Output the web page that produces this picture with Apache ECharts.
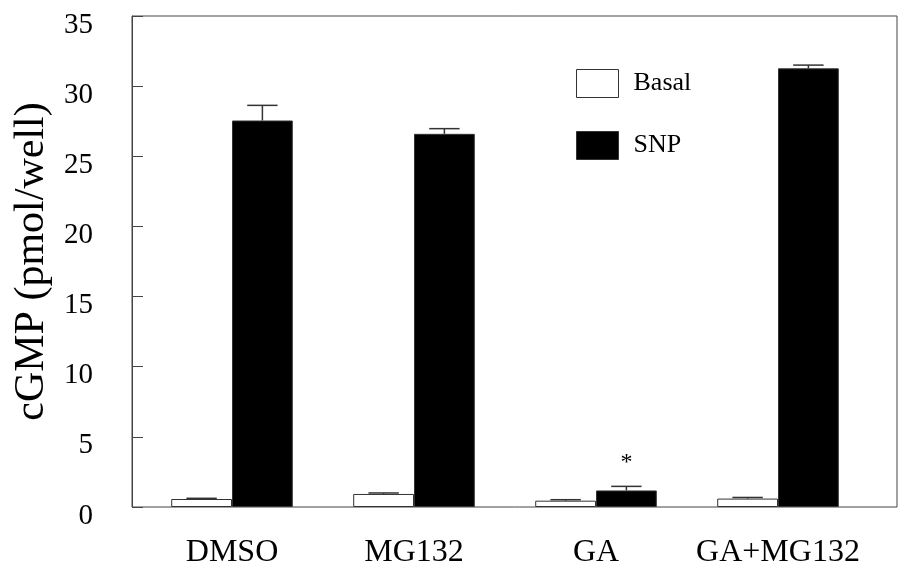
<!DOCTYPE html>
<html><head><meta charset="utf-8">
<script src="https://cdn.jsdelivr.net/npm/echarts@6/dist/echarts.min.js"></script>
<style>html,body{margin:0;padding:0;background:#fff}#c{width:909px;height:573px}</style>
</head><body><div id="c"></div>
<script>
const categories = ['DMSO', 'MG132', 'GA', 'GA+MG132'];
const seriesNames = ['Basal', 'SNP'];
const basalValues = [0.57, 0.93, 0.45, 0.60];
const basalErrors = [0.05, 0.07, 0.07, 0.08];
const snpValues = [27.55, 26.6, 1.18, 31.27];
const snpErrors = [1.08, 0.37, 0.29, 0.23];
const snpMarks = ['', '', '*', ''];
const yMin = 0, yMax = 35, yStep = 5;

const FONT = 'Liberation Serif';
const GAP = 0.332;
const LINE = '#444';

function errorSeries(values, errors, side, marks) {
  return {
    type: 'custom', xAxisIndex: 1, yAxisIndex: 1, z: 5, silent: true,
    data: values.map((v, i) => [i, v, v + errors[i]]),
    renderItem(params, api) {
      const i = api.value(0);
      const base = api.coord([i, api.value(1)]);
      const top = api.coord([i, api.value(2)]);
      const band = api.size([1, 0])[0];
      const barW = band * (1 - GAP) / 2;
      const x = base[0] + side * barW / 2;
      const half = barW / 4;
      const st = { stroke: '#333', lineWidth: 1.5 };
      const children = [
        { type: 'line', shape: { x1: x, y1: base[1], x2: x, y2: top[1] }, style: st },
        { type: 'line', shape: { x1: x - half, y1: top[1], x2: x + half, y2: top[1] }, style: st }
      ];
      const m = marks ? marks[params.dataIndex] : '';
      if (m) {
        children.push({ type: 'text', x: x, y: top[1] - 24,
          style: { text: m, fill: '#000', font: '24px "' + FONT + '"', align: 'center', verticalAlign: 'middle' } });
      }
      return { type: 'group', children };
    }
  };
}

const chart = echarts.init(document.getElementById('c'));
chart.setOption({
  animation: false,
  backgroundColor: '#fff',
  grid: [
    { left: 132, right: 12, top: 16, bottom: 66, show: true, borderColor: LINE, borderWidth: 1, backgroundColor: 'transparent' },
    { left: 141, right: 40, top: 16, bottom: 66 }
  ],
  legend: {
    orient: 'vertical', left: 576, top: 69, padding: 0, itemWidth: 42, itemHeight: 28, itemGap: 33,
    icon: 'rect',
    data: [
      { name: seriesNames[0], itemStyle: { color: '#fff', borderColor: '#333', borderWidth: 1 } },
      { name: seriesNames[1], itemStyle: { color: '#000', borderColor: '#333', borderWidth: 1 } }
    ],
    textStyle: { fontFamily: FONT, fontSize: 26, color: '#000', padding: [0, 0, 0, 10] },
    selectedMode: false
  },
  xAxis: [
    { gridIndex: 0, type: 'value', show: false, min: 0, max: 1 },
    { gridIndex: 1, type: 'category', data: categories,
      axisLine: { show: false }, axisTick: { show: false },
      axisLabel: { interval: 0, fontFamily: FONT, fontSize: 32, color: '#000', margin: 30 } }
  ],
  yAxis: [
    { gridIndex: 0, type: 'value', min: yMin, max: yMax, interval: yStep,
      name: 'cGMP (pmol/well)', nameLocation: 'middle', nameGap: 74,
      nameTextStyle: { fontFamily: FONT, fontSize: 42, color: '#000' },
      axisLine: { show: true, lineStyle: { color: LINE, width: 1 } },
      axisTick: { show: true, inside: true, length: 11, lineStyle: { color: LINE, width: 1 } },
      splitLine: { show: false },
      axisLabel: { fontFamily: FONT, fontSize: 29, color: '#000', margin: 39, verticalAlign: 'top', lineHeight: 18 } },
    { gridIndex: 1, type: 'value', min: yMin, max: yMax, show: false, splitLine: { show: false } }
  ],
  series: [
    { name: seriesNames[0], type: 'bar', xAxisIndex: 1, yAxisIndex: 1, data: basalValues,
      barGap: '0%', barCategoryGap: (GAP * 100) + '%',
      itemStyle: { color: '#fff', borderColor: '#333', borderWidth: 1 } },
    { name: seriesNames[1], type: 'bar', xAxisIndex: 1, yAxisIndex: 1, data: snpValues,
      barGap: '0%', barCategoryGap: (GAP * 100) + '%',
      itemStyle: { color: '#000', borderColor: '#333', borderWidth: 1 } },
    errorSeries(basalValues, basalErrors, -1, null),
    errorSeries(snpValues, snpErrors, 1, snpMarks)
  ]
});
</script></body></html>
